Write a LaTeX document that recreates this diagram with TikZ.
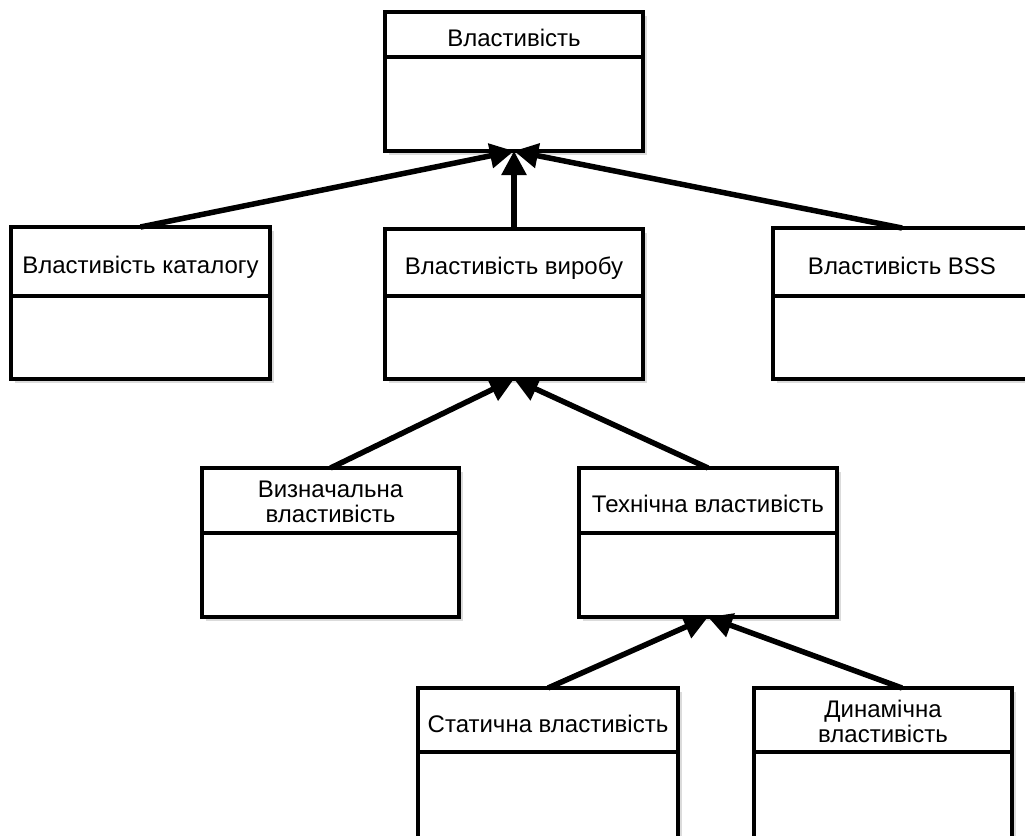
\documentclass[tikz,border=0pt]{standalone}
\usepackage{fontspec}
\setmainfont{Liberation Sans}
\usetikzlibrary{arrows.meta,calc}
\tikzset{
  umlbox/.style={draw=black, line width=3.3pt, fill=white, inner sep=0pt, outer sep=0pt},
  boxshadow/.style={fill=black!14, draw=none},
  lbl/.style={font=\fontsize{24}{25}\selectfont, align=center, inner sep=0pt},
  oneline/.style={anchor=base, yshift=-12pt},
  twoline/.style={yshift=-1pt},
  divider/.style={line width=3.3pt},
  inherit/.style={line width=5.5pt, -{Triangle[length=24pt,width=24pt]}}
}
% #1 name, #2 left, #3 top, #4 right, #5 header line, #6 bottom, #7 label style, #8 text
\newcommand\umlclass[8]{%
  \fill[boxshadow] (#2+4,#3+4) rectangle (#4+4,#6+4);
  \node[umlbox, minimum width={#4-#2}, minimum height={#6-#3}] (#1) at ({(#2+#4)/2},{(#3+#6)/2}) {};
  \coordinate (#1h) at (0,#5);
  \draw[divider] (#1.west |- #1h) -- (#1.east |- #1h);
  \node[lbl, #7] (#1t) at ({(#2+#4)/2},{(#3+#5)/2}) {#8};
}
\begin{document}
\begin{tikzpicture}[x=1pt, y=-1pt]
\useasboundingbox (0,0) rectangle (1025,835);
\umlclass{top}{385}{12}{643}{57}{151}{oneline}{Властивість}
\umlclass{cat}{11}{227}{270}{296}{379}{oneline}{Властивість каталогу}
\umlclass{prod}{385}{229}{643}{296}{379}{oneline}{Властивість виробу}
\umlclass{bss}{773}{228}{1031}{296}{379}{oneline}{Властивість BSS}
\umlclass{def}{202}{468}{459}{533}{617}{twoline}{Визначальна\\властивість}
\umlclass{tech}{579}{468}{837}{533}{617}{oneline}{Технічна властивість}
\umlclass{stat}{418}{688}{678}{752}{870}{oneline}{Статична властивість}
\umlclass{dyn}{754}{688}{1012}{752}{870}{twoline}{Динамічна\\властивість}
\coordinate (dynstart) at ([xshift=19pt]dyn.north);
\draw[inherit] (cat.north) -- (top.south);
\draw[inherit] (prod.north) -- (top.south);
\draw[inherit] (bss.north) -- (top.south);
\draw[inherit] (def.north) -- (prod.south);
\draw[inherit] (tech.north) -- (prod.south);
\draw[inherit] (stat.north) -- (tech.south);
\draw[inherit] (dynstart) -- (tech.south);
\end{tikzpicture}
\end{document}
